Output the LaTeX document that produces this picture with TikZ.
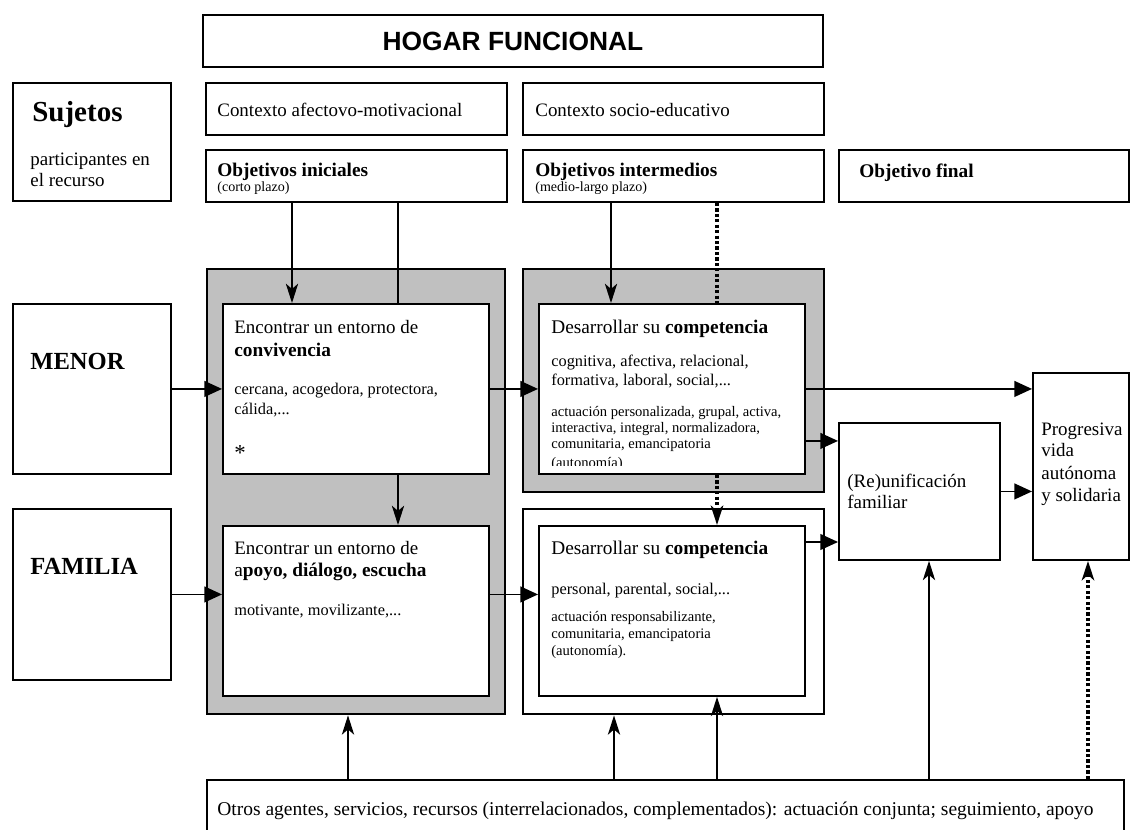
\documentclass[tikz,border=0pt]{standalone}
\usepackage{fontspec}
\setmainfont{Liberation Serif}
\newfontfamily\hogarfont{Liberation Sans}
\usetikzlibrary{arrows.meta,calc}
\definecolor{panelgray}{RGB}{192,192,192}

\begin{document}
\begin{tikzpicture}[x=0.02cm, y=-0.02cm,
  box/.style={draw, line width=1.1pt, fill=white, inner sep=0pt, anchor=north west},
  panel/.style={draw, line width=1.4pt, fill=panelgray, inner sep=0pt, anchor=north west},
  txt/.style={anchor=base west, inner sep=0pt, font=\fontsize{10.8}{13}\selectfont},
  headtxt/.style={txt, font=\fontsize{11}{13}\selectfont\bfseries},
  desctxt/.style={txt, font=\fontsize{9.3}{11}\selectfont},
  smalltxt/.style={txt, font=\fontsize{8.3}{10}\selectfont},
  harrow/.style={line width=0.8pt, -{Triangle[length=10pt,width=9pt]}},
  varrow/.style={line width=0.8pt, -{Stealth[length=11pt,width=7pt,inset=3pt]}},
  dotline/.style={line width=2.2pt, dash pattern=on 1.8pt off 1.3pt}]
\useasboundingbox (0,0) rectangle (1130,830);

% Top rows
\node[box, minimum width=12.4cm, minimum height=1.04cm,
  font=\hogarfont\bfseries\fontsize{15}{18}\selectfont] (hogar) at (202,14) {HOGAR FUNCIONAL};
\node[box, minimum width=3.16cm, minimum height=2.36cm] (sujetos) at (12,82) {};
\node[box, minimum width=6.02cm, minimum height=1.04cm] (ctxafe) at (205,82) {};
\node[box, minimum width=6.02cm, minimum height=1.04cm] (ctxsoc) at (522,82) {};
\node[box, minimum width=6.02cm, minimum height=1.04cm] (obini) at (205,149) {};
\node[box, minimum width=6.02cm, minimum height=1.04cm] (obint) at (522,149) {};
\node[box, minimum width=5.8cm, minimum height=1.04cm] (obfin) at (838,149) {};

% Gray panels and frame
\node[panel, minimum width=5.96cm, minimum height=8.9cm] (gray1) at (206,268) {};
\node[panel, minimum width=6.02cm, minimum height=4.46cm] (gray2) at (522,268) {};
\node[box, line width=1.4pt, minimum width=6.02cm, minimum height=4.1cm] (frame4) at (522,508) {};

% Subjects
\node[box, minimum width=3.16cm, minimum height=3.4cm] (menor) at (12,303) {};
\node[box, minimum width=3.16cm, minimum height=3.42cm] (familia) at (12,508) {};

% Goals
\node[box, minimum width=5.32cm, minimum height=3.4cm] (conviv) at (222,303) {};
\node[box, minimum width=5.32cm, minimum height=3.4cm] (apoyo) at (222,525) {};
\node[box, minimum width=5.32cm, minimum height=3.4cm] (comp1) at (538,303) {};
\node[box, minimum width=5.32cm, minimum height=3.4cm] (comp2) at (538,525) {};
\node[box, minimum width=3.22cm, minimum height=2.74cm] (reunif) at (838,422) {};
\node[box, minimum width=1.92cm, minimum height=3.74cm] (prog) at (1032,372) {};
\node[box, minimum width=18.34cm, minimum height=1.4cm] (otros) at (206,779) {};

% Horizontal arrows
\draw[harrow] (menor) -- (conviv);
\draw[harrow] (conviv) -- (comp1);
\draw[harrow] (familia) -- (familia -| apoyo.west);
\draw[harrow] (familia -| apoyo.east) -- (familia -| comp2.west);
\draw[harrow] (comp1) -- (comp1 -| prog.west);
\coordinate (c1out) at ($(comp1.east)+(0,52)$);
\draw[harrow] (c1out) -- (c1out -| reunif.west);
\draw[harrow] (reunif) -- (reunif -| prog.west);
\coordinate (c2out) at ($(comp2.north east)+(0,17)$);
\draw[harrow] (c2out) -- (c2out -| reunif.west);

% Arrows from the objectives
\coordinate (oi1) at ($(obini.south west)+(87,0)$);
\coordinate (oi2) at ($(obini.south west)+(193,0)$);
\draw[varrow] (oi1) -- (oi1 |- conviv.north);
\draw[line width=0.8pt] (oi2) -- (oi2 |- conviv.north);
\draw[varrow] (oi2 |- conviv.south) -- (oi2 |- apoyo.north);
\coordinate (om1) at ($(obint.south west)+(89,0)$);
\coordinate (om2) at ($(obint.south west)+(195,0)$);
\draw[varrow] (om1) -- (om1 |- comp1.north);
\draw[dotline] (om2) -- (om2 |- comp1.north);
\draw[dotline, -{Stealth[length=11pt,width=7pt,inset=3pt]}] (om2 |- comp1.south) -- (om2 |- comp2.north);

% Arrows from the other agents
\coordinate (ot1) at ($(otros.north west)+(142,0)$);
\coordinate (ot2) at ($(otros.north west)+(408,0)$);
\coordinate (ot3) at ($(otros.north west)+(511,0)$);
\coordinate (ot4) at ($(otros.north west)+(723,0)$);
\coordinate (ot5) at ($(otros.north west)+(882,0)$);
\draw[varrow] (ot1) -- (ot1 |- gray1.south);
\draw[varrow] (ot2) -- (ot2 |- frame4.south);
\draw[varrow] (ot3) -- (ot3 |- comp2.south);
\draw[varrow] (ot4) -- (ot4 |- reunif.south);
\draw[dotline, -{Stealth[length=11pt,width=7pt,inset=3pt]}] (ot5) -- (ot5 |- prog.south);

% Texts
\node[txt, font=\fontsize{16.5}{18}\selectfont\bfseries] (t-suj) at (32,122) {Sujetos};
\node[txt] (t-part1) at (30,166) {participantes en};
\node[txt] (t-part2) at (30,187) {el recurso};
\node[txt] (t-ctxafe) at (217,117) {Contexto afectovo-motivacional};
\node[txt] (t-ctxsoc) at (535,117) {Contexto socio-educativo};
\node[headtxt] (t-obini) at (217,177) {Objetivos iniciales};
\node[txt, font=\fontsize{8}{10}\selectfont] (t-obini2) at (217,192) {(corto plazo)};
\node[headtxt] (t-obint) at (535,177) {Objetivos intermedios};
\node[txt, font=\fontsize{8}{10}\selectfont] (t-obint2) at (535,192) {(medio-largo plazo)};
\node[headtxt] (t-obfin) at (859,178) {Objetivo final};
\node[txt, font=\fontsize{14}{16}\selectfont\bfseries] (t-menor) at (30,370) {MENOR};
\node[txt, font=\fontsize{14}{16}\selectfont\bfseries] (t-familia) at (30,575) {FAMILIA};

\node[txt] (t-cv1) at (234,334) {Encontrar un entorno de};
\node[txt, font=\fontsize{11}{13}\selectfont\bfseries] (t-cv2) at (234,357) {convivencia};
\node[desctxt] (t-cv3) at (234,395) {cercana, acogedora, protectora,};
\node[desctxt] (t-cv4) at (234,415) {cálida,...};
\node[txt, font=\fontsize{13}{15}\selectfont] (t-cv5) at (234,461) {*};

\node[txt] (t-ap1) at (234,555) {Encontrar un entorno de};
\node[txt, font=\fontsize{11}{13}\selectfont] (t-ap2) at (234,577) {a\textbf{poyo, diálogo, escucha}};
\node[desctxt] (t-ap3) at (234,616) {motivante, movilizante,...};

\node[txt, font=\fontsize{11}{13}\selectfont] (t-c1a) at (551,334) {Desarrollar su \textbf{competencia}};
\node[desctxt] (t-c1b) at (551,367) {cognitiva, afectiva, relacional,};
\node[desctxt] (t-c1c) at (551,386) {formativa, laboral, social,...};
\node[smalltxt] (t-c1d) at (551,417) {actuación personalizada, grupal, activa,};
\node[smalltxt] (t-c1e) at (551,433) {interactiva, integral, normalizadora,};
\node[smalltxt] (t-c1f) at (551,449) {comunitaria, emancipatoria};
\begin{scope}
\clip (538,303) rectangle (804,466);
\node[smalltxt] (t-c1g) at (551,468) {(autonomía)};
\end{scope}

\node[txt, font=\fontsize{11}{13}\selectfont] (t-c2a) at (551,555) {Desarrollar su \textbf{competencia}};
\node[desctxt] (t-c2b) at (551,595) {personal, parental, social,...};
\node[smalltxt] (t-c2c) at (551,622) {actuación responsabilizante,};
\node[smalltxt] (t-c2d) at (551,639) {comunitaria, emancipatoria};
\node[smalltxt] (t-c2e) at (551,656) {(autonomía).};

\node[txt] (t-re1) at (847,488) {(Re)unificación};
\node[txt] (t-re2) at (847,509) {familiar};
\node[txt] (t-pr1) at (1041,436) {Progresiva};
\node[txt] (t-pr2) at (1041,457) {vida};
\node[txt] (t-pr3) at (1041,480) {autónoma};
\node[txt] (t-pr4) at (1041,502) {y solidaria};

\node[txt, font=\fontsize{11.1}{13}\selectfont] (t-otros) at (217,816)
  {Otros agentes, servicios, recursos (interrelacionados, complementados): actuación conjunta; seguimiento, apoyo};
\end{tikzpicture}
\end{document}
